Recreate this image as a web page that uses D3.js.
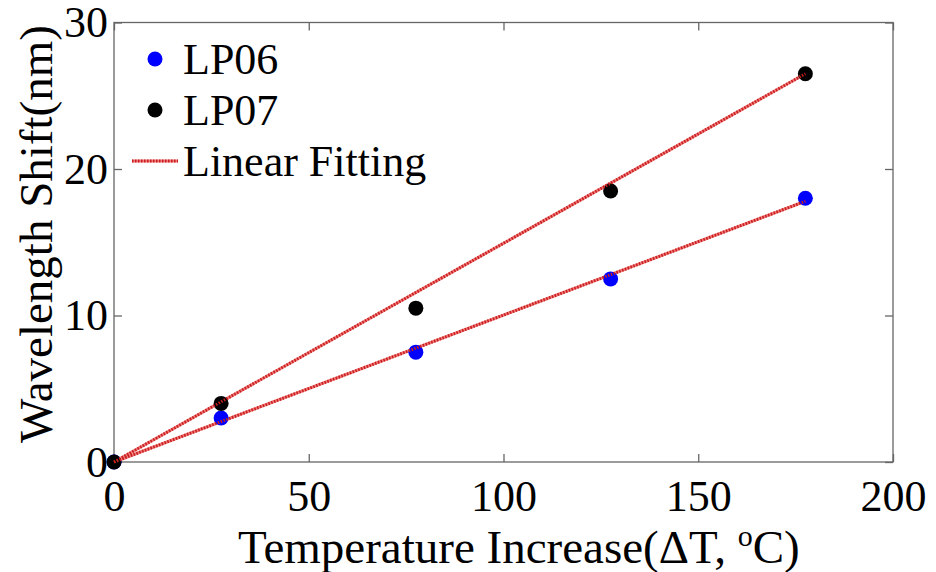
<!DOCTYPE html>
<html>
  <head>
    <meta charset="utf-8">
    <title>Wavelength shift vs temperature</title>
    <script src="https://cdn.jsdelivr.net/npm/d3@7"></script>
    <style>
      body { margin: 0; background: #fff; }
      #chart { display: block; font-family: "Liberation Serif", "Times New Roman", serif; }
      .frame { fill: none; stroke: #666; stroke-width: 1.3; }
      .axis path { display: none; }
      .axis line { stroke: #666; stroke-width: 1.3; }
      .axis text { font-size: 44px; fill: #000; font-family: "Liberation Serif", serif; }
      .label { font-size: 47px; fill: #000; }
      .legendText { font-size: 44px; fill: #000; }
      .fitBase { stroke: #f07a7a; stroke-width: 3; fill: none; }
      .fit { stroke: #c81e1e; stroke-width: 3; stroke-dasharray: 1.5 1.5; fill: none; }
    </style>
  </head>

  <body>
    <svg id="chart" width="936" height="572"></svg>

    <script>
      // data
      temps = [0, 27.5, 77.5, 127.5, 177.5];
      lp06 = [0, 3, 7.5, 12.5, 18];
      lp07 = [0, 4, 10.5, 18.5, 26.5];
      // linear fitting end points
      fitX = [0, 177.5];
      fit06 = [0, 17.8];
      fit07 = [0, 26.5];
      xTicks = [0, 50, 100, 150, 200];
      yTicks = [0, 10, 20, 30];

      margin = { top: 22.5, right: 43, bottom: 110, left: 114 };
      width = 936;
      height = 572;

      chart = d3.select("#chart");

      x = d3.scaleLinear()
        .domain([0, 200])
        .range([margin.left, width - margin.right]);
      y = d3.scaleLinear()
        .domain([0, 30])
        .range([height - margin.bottom, margin.top]);

      // frame
      chart.append("rect")
        .attr("class", "frame")
        .attr("x", x(0))
        .attr("y", y(30))
        .attr("width", x(200) - x(0))
        .attr("height", y(0) - y(30));

      // axes, ticks pointing inward
      xAxis = d3.axisBottom(x).tickValues(xTicks).tickSize(-8).tickPadding(18);
      chart.append("g")
        .attr("class", "axis")
        .attr("transform", "translate(0," + y(0) + ")")
        .call(xAxis);
      chart.append("g")
        .attr("class", "axis")
        .attr("transform", "translate(0," + y(30) + ")")
        .call(d3.axisTop(x).tickValues(xTicks).tickSize(-8).tickFormat(""));

      yAxis = d3.axisLeft(y).tickValues(yTicks).tickSize(-8).tickPadding(6);
      chart.append("g")
        .attr("class", "axis")
        .attr("transform", "translate(" + x(0) + ",0)")
        .call(yAxis);
      chart.append("g")
        .attr("class", "axis")
        .attr("transform", "translate(" + x(200) + ",0)")
        .call(d3.axisRight(y).tickValues(yTicks).tickSize(-8).tickFormat(""));

      // fit lines
      line = d3.line()
        .x(function(d) { return x(d[0]); })
        .y(function(d) { return y(d[1]); });
      [fit06, fit07].forEach(function(f) {
        pts = fitX.map(function(t, i) { return [t, f[i]]; });
        chart.append("path").attr("class", "fitBase").attr("d", line(pts));
      });

      // points
      series = [
        { name: "LP06", values: lp06, colour: "#0000ff" },
        { name: "LP07", values: lp07, colour: "#000000" }
      ];
      series.forEach(function(s) {
        chart.append("g")
          .selectAll("circle")
          .data(s.values)
          .enter().append("circle")
            .attr("cx", function(d, i) { return x(temps[i]); })
            .attr("cy", function(d) { return y(d); })
            .attr("r", 7.5)
            .attr("fill", s.colour);
      });

      [fit06, fit07].forEach(function(f) {
        pts = fitX.map(function(t, i) { return [t, f[i]]; });
        chart.append("path").attr("class", "fit").attr("d", line(pts));
      });

      // legend
      legend = chart.append("g");
      series.forEach(function(s, i) {
        legend.append("circle")
          .attr("cx", 155)
          .attr("cy", 59 + i * 51)
          .attr("r", 7.5)
          .attr("fill", s.colour);
        legend.append("text")
          .attr("class", "legendText")
          .attr("x", 183)
          .attr("y", 74 + i * 51)
          .text(s.name);
      });
      legend.append("line").attr("class", "fitBase")
        .attr("x1", 132).attr("x2", 178).attr("y1", 161).attr("y2", 161);
      legend.append("line").attr("class", "fit")
        .attr("x1", 132).attr("x2", 178).attr("y1", 161).attr("y2", 161);
      legend.append("text")
        .attr("class", "legendText")
        .attr("x", 183)
        .attr("y", 176)
        .text("Linear Fitting");

      // axis labels
      xLabel = chart.append("text")
        .attr("class", "label")
        .attr("x", 238)
        .attr("y", 563);
      xLabel.append("tspan").text("Temperature Increase(\u0394T, ");
      xLabel.append("tspan").attr("font-size", "30px").attr("dy", -17).text("o");
      xLabel.append("tspan").attr("dy", 17).text("C)");

      chart.append("text")
        .attr("class", "label")
        .attr("transform", "translate(52,234) rotate(-90)")
        .attr("text-anchor", "middle")
        .text("Wavelength Shift(nm)");
    </script>
  </body>
</html>
